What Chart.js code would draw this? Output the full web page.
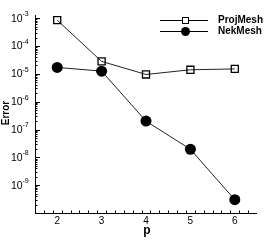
<!DOCTYPE html>
<html>
<head>
<meta charset="utf-8">
<script src="https://cdn.jsdelivr.net/npm/chart.js@4"></script>
<style>
  html, body { margin: 0; padding: 0; background: #fff; }
  #wrap { width: 273px; height: 243px; }
</style>
</head>
<body>
<div id="wrap"><canvas id="errChart" width="273" height="243"></canvas></div>
<script>
// polynomial order p and error for each mesh
const orders = [2, 3, 4, 5, 6];
const projMesh = [8.5e-4, 2.8e-5, 9.5e-6, 1.4e-5, 1.5e-5];
const nekMesh = [1.7e-5, 1.25e-5, 2.0e-7, 1.95e-8, 3.0e-10];
const yExponents = [-3, -4, -5, -6, -7, -8, -9];
const xTicks = [2, 3, 4, 5, 6];

const FONT = '"Liberation Sans", Arial, sans-serif';

// axes, ticks, labels and legend drawn in Tecplot style (ticks pointing inward)
const tecAxes = {
    id: 'tecAxes',
    afterDraw(chart) {
        const ctx = chart.ctx;
        const xs = chart.scales.x;
        const ys = chart.scales.y;
        const area = chart.chartArea;
        ctx.save();
        ctx.strokeStyle = '#000';
        ctx.fillStyle = '#000';
        ctx.lineWidth = 1;

        // axis lines
        ctx.beginPath();
        ctx.moveTo(area.left + 0.5, area.top);
        ctx.lineTo(area.left + 0.5, area.bottom + 0.5);
        ctx.lineTo(area.right, area.bottom + 0.5);
        ctx.stroke();

        // y ticks (log)
        ctx.beginPath();
        for (let e = -10; e <= -3; e++) {
            for (let m = 1; m <= 9; m++) {
                const v = m * Math.pow(10, e);
                if (v < ys.min || v > ys.max) continue;
                const py = Math.round(ys.getPixelForValue(v)) + 0.5;
                const len = m === 1 ? 5 : 2.5;
                ctx.moveTo(area.left, py);
                ctx.lineTo(area.left + len, py);
            }
        }
        // x ticks
        for (let i = 15; i <= 65; i += 2) {
            const v = i / 10;
            if (v <= xs.min || v >= xs.max) continue;
            const px = Math.round(xs.getPixelForValue(v)) + 0.5;
            const len = Number.isInteger(v) ? 5 : 2.5;
            ctx.moveTo(px, area.bottom);
            ctx.lineTo(px, area.bottom - len);
        }
        ctx.stroke();

        // y tick labels 10^e
        ctx.textBaseline = 'middle';
        ctx.textAlign = 'left';
        yExponents.forEach(e => {
            const py = ys.getPixelForValue(Math.pow(10, e));
            ctx.font = '10.5px ' + FONT;
            ctx.fillText('10', 11, py + 0.5);
            ctx.font = '7px ' + FONT;
            ctx.fillText(String(e), 22.5, py - 4);
        });

        // x tick labels
        ctx.font = '10px ' + FONT;
        ctx.textAlign = 'center';
        xTicks.forEach(v => {
            ctx.fillText(String(v), xs.getPixelForValue(v), 221);
        });

        // axis titles
        ctx.font = 'bold 12px ' + FONT;
        ctx.fillText('p', xs.getPixelForValue(4) + 1, 231);
        ctx.save();
        ctx.translate(6.5, 113);
        ctx.rotate(-Math.PI / 2);
        ctx.font = 'bold 10px ' + FONT;
        ctx.fillText('Error', 0, 0);
        ctx.restore();

        // legend
        const items = [
            { label: 'ProjMesh', y: 20, square: true },
            { label: 'NekMesh', y: 31, square: false }
        ];
        items.forEach(it => {
            ctx.beginPath();
            ctx.moveTo(160, it.y + 0.5);
            ctx.lineTo(208, it.y + 0.5);
            ctx.stroke();
            if (it.square) {
                ctx.fillStyle = '#fff';
                ctx.fillRect(182.5, it.y - 2.5, 6, 6);
                ctx.strokeRect(182.5, it.y - 2.5, 6, 6);
                ctx.fillStyle = '#000';
            } else {
                ctx.beginPath();
                ctx.arc(185.5, it.y + 0.5, 4.5, 0, Math.PI * 2);
                ctx.fill();
            }
            ctx.font = 'bold 10px ' + FONT;
            ctx.textAlign = 'left';
            ctx.fillText(it.label, 218, it.y + 0.5);
        });
        ctx.restore();
    }
};

new Chart(document.getElementById('errChart'), {
    type: 'line',
    data: {
        datasets: [{
            label: 'ProjMesh',
            data: orders.map((p, i) => ({ x: p, y: projMesh[i] })),
            borderColor: '#222',
            borderWidth: 1,
            pointStyle: 'rect',
            pointRadius: 5,
            pointBorderWidth: 1.3,
            pointBorderColor: '#000',
            pointBackgroundColor: 'rgba(0,0,0,0)',
            tension: 0,
            clip: false
        }, {
            label: 'NekMesh',
            data: orders.map((p, i) => ({ x: p, y: nekMesh[i] })),
            borderColor: '#222',
            borderWidth: 1,
            pointStyle: 'circle',
            pointRadius: 5.5,
            pointBorderWidth: 0,
            pointBackgroundColor: '#000',
            tension: 0,
            clip: false
        }]
    },
    options: {
        responsive: false,
        animation: false,
        layout: { padding: { left: 35, right: 16, top: 15, bottom: 30 } },
        plugins: { legend: { display: false }, tooltip: { enabled: false } },
        scales: {
            x: { type: 'linear', min: 1.5, max: 6.5, display: false },
            y: { type: 'logarithmic', min: 1e-10, max: 1.3e-3, display: false }
        }
    },
    plugins: [tecAxes]
});
</script>
</body>
</html>
